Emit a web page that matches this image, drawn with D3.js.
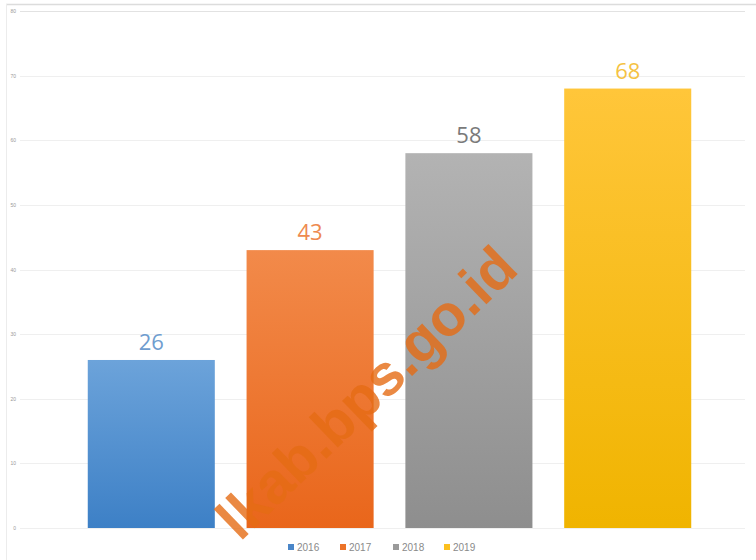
<!DOCTYPE html>
<html>
<head>
<meta charset="utf-8">
<script src="https://cdn.jsdelivr.net/npm/d3@7"></script>
<style>
  html, body { margin: 0; padding: 0; background: #fff; }
  svg { display: block; }
</style>
</head>
<body>
<svg id="chart" width="756" height="560"></svg>
<script>
// Data
const years = ["2016", "2017", "2018", "2019"];
const values = [26, 43, 58, 68];
const yTicks = [0, 10, 20, 30, 40, 50, 60, 70, 80];

// Bar colours: [top of gradient, bottom of gradient, label colour, legend swatch]
const topColors = ["#6ca3da", "#f28a4a", "#b3b3b3", "#ffc63a"];
const bottomColors = ["#3d80c6", "#e9661b", "#8e8e8e", "#f0b400"];
const labelColors = ["#6f9dcf", "#ee8a4f", "#7a7a7a", "#f5c243"];
const swatchColors = ["#4a86c8", "#ec7328", "#9a9a9a", "#fcc01e"];

const svg = d3.select("#chart");
const W = 756, H = 560;

// frame lines along top and left
svg.append("line").attr("x1", 6).attr("x2", W).attr("y1", 4.5).attr("y2", 4.5)
  .attr("stroke", "#dcdcdc").attr("stroke-width", 1.5);
svg.append("line").attr("x1", 6.5).attr("x2", 6.5).attr("y1", 4).attr("y2", H)
  .attr("stroke", "#ececec").attr("stroke-width", 1);

const y = d3.scaleLinear().domain([0, 80]).range([528, 11]);
const x = d3.scaleBand().domain(years).range([56, 723]).paddingInner(0.2).paddingOuter(0.2);

// gridlines
svg.append("g").selectAll("line").data(yTicks).join("line")
  .attr("x1", 20).attr("x2", 745)
  .attr("y1", d => Math.round(y(d)) + 0.5).attr("y2", d => Math.round(y(d)) + 0.5)
  .attr("stroke", d => d === 80 ? "#e2e2e2" : "#efefef").attr("stroke-width", 1);

// y axis labels (tiny)
const yAxis = d3.axisLeft(y).tickValues(yTicks).tickSize(0).tickPadding(0);
const gy = svg.append("g").attr("transform", "translate(16,0)").call(yAxis);
gy.select(".domain").remove();
gy.selectAll("text").attr("fill", "#9a9a9a").style("font-size", "5px")
  .style("font-family", "Liberation Sans, Arial, sans-serif");

// gradients
const defs = svg.append("defs");
years.forEach((yr, i) => {
  const g = defs.append("linearGradient").attr("id", "grad" + i)
    .attr("x1", 0).attr("y1", 0).attr("x2", 0).attr("y2", 1);
  g.append("stop").attr("offset", "0%").attr("stop-color", topColors[i]);
  g.append("stop").attr("offset", "100%").attr("stop-color", bottomColors[i]);
});

// bars
svg.append("g").selectAll("rect").data(years).join("rect")
  .attr("x", d => x(d))
  .attr("y", (d, i) => y(values[i]))
  .attr("width", x.bandwidth())
  .attr("height", (d, i) => y(0) - y(values[i]))
  .attr("fill", (d, i) => `url(#grad${i})`);

// value labels
svg.append("g").selectAll("text").data(years).join("text")
  .attr("x", d => x(d) + x.bandwidth() / 2)
  .attr("y", (d, i) => y(values[i]) - 10)
  .attr("text-anchor", "middle")
  .attr("fill", (d, i) => labelColors[i])
  .style("font-family", "Open Sans, Liberation Sans, sans-serif")
  .style("font-size", "22px")
  .text((d, i) => values[i]);

// legend
const legendX = [288, 340, 393, 444];
const lg = svg.append("g").selectAll("g").data(years).join("g")
  .attr("transform", (d, i) => `translate(${legendX[i]},547)`);
lg.append("rect").attr("x", 0).attr("y", -3).attr("width", 6).attr("height", 6)
  .attr("fill", (d, i) => swatchColors[i]);
lg.append("text").attr("x", 9).attr("y", 3.5)
  .attr("fill", "#8a8a8a")
  .style("font-family", "Liberation Sans, Arial, sans-serif")
  .style("font-size", "10px")
  .text(d => d);

// watermark
svg.append("text")
  .attr("transform", "translate(366,392) rotate(-44)")
  .attr("text-anchor", "middle")
  .attr("dominant-baseline", "central")
  .attr("fill", "#e56c14")
  .attr("fill-opacity", 0.8)
  .style("font-family", "Liberation Sans, Arial, sans-serif")
  .style("font-weight", "bold")
  .style("font-size", "58px")
  .text("lkab.bps.go.id");
</script>
</body>
</html>
